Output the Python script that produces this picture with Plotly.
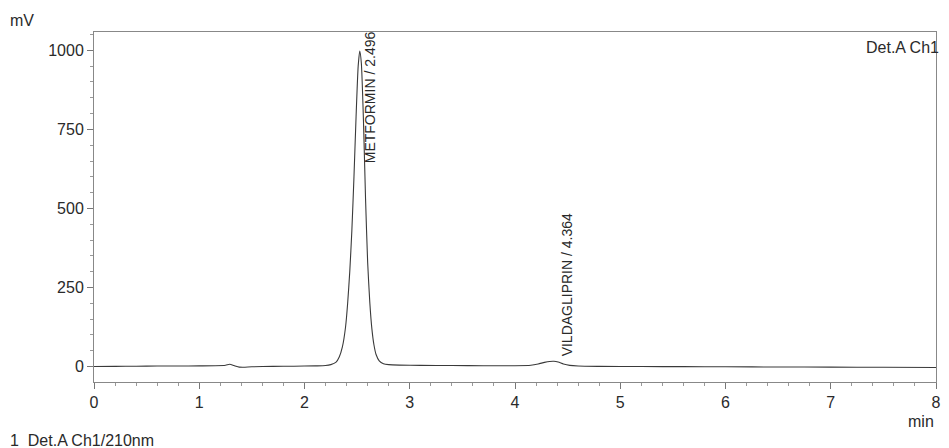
import plotly.graph_objects as go

# Chromatogram trace (time in min, signal in mV)
time_min = [0.00, 0.20, 0.40, 0.60, 0.80, 1.00, 1.15, 1.25, 1.29, 1.33, 1.38, 1.42, 1.50,
            1.70, 1.90, 2.10, 2.20, 2.25, 2.30, 2.33, 2.36, 2.39, 2.41, 2.43, 2.45, 2.47,
            2.49, 2.51, 2.525, 2.54, 2.56, 2.58, 2.60, 2.62, 2.64, 2.66, 2.68, 2.71, 2.75,
            2.80, 2.90, 3.10, 3.40, 3.70, 4.00, 4.15, 4.22, 4.28, 4.33, 4.37, 4.41, 4.46,
            4.52, 4.60, 4.80, 5.20, 5.60, 6.00, 6.50, 7.00, 7.50, 8.00]
signal_mv = [0.0, 0.5, 1.0, 1.5, 1.5, 2.0, 2.5, 4.0, 7.0, 3.0, -2.0, -2.5, -1.0,
             0.5, 1.0, 2.0, 3.0, 6.0, 14.0, 30.0, 62.0, 125.0, 200.0, 300.0, 430.0, 600.0,
             790.0, 950.0, 998.0, 960.0, 780.0, 530.0, 330.0, 205.0, 120.0, 68.0, 38.0, 18.0, 9.0,
             6.0, 4.5, 3.5, 3.0, 2.5, 2.5, 4.0, 8.0, 13.0, 16.0, 16.5, 14.0, 8.0,
             3.5, 1.5, 0.5, 0.0, -0.5, -1.0, -1.5, -2.0, -2.5, -3.0]

peak_names = ["METFORMIN / 2.496", "VILDAGLIPRIN / 4.364"]
peak_label_x = [2.63, 4.49]
peak_label_y = [636, 26]

x_ticks = [0, 1, 2, 3, 4, 5, 6, 7, 8]
y_ticks = [0, 250, 500, 750, 1000]

font_family = "Liberation Sans, Arial, sans-serif"
ink = "#2a2a2a"

fig = go.Figure()
fig.add_trace(go.Scatter(x=time_min, y=signal_mv, mode="lines",
                         line=dict(color="#3a3a3a", width=1.1, shape="spline", smoothing=0.6),
                         hoverinfo="skip", showlegend=False))

for name, px, py in zip(peak_names, peak_label_x, peak_label_y):
    fig.add_annotation(x=px, y=py, text=name, textangle=-90, showarrow=False,
                       xanchor="center", yanchor="bottom",
                       font=dict(family=font_family, size=14, color=ink))

fig.add_annotation(xref="paper", yref="paper", x=1.006, y=0.985, text="Det.A Ch1",
                   showarrow=False, xanchor="right", yanchor="top",
                   font=dict(family=font_family, size=16, color=ink))
fig.add_annotation(xref="paper", yref="paper", x=-0.102, y=1.034, text="mV",
                   showarrow=False, xanchor="left", yanchor="middle",
                   font=dict(family=font_family, size=16, color=ink))
fig.add_annotation(xref="paper", yref="paper", x=1.0, y=-0.114, text="min",
                   showarrow=False, xanchor="right", yanchor="middle",
                   font=dict(family=font_family, size=16, color=ink))
fig.add_annotation(xref="paper", yref="paper", x=-0.102, y=-0.166, text="1  Det.A Ch1/210nm",
                   showarrow=False, xanchor="left", yanchor="middle",
                   font=dict(family=font_family, size=16, color=ink))

fig.update_xaxes(range=[0, 8], tickvals=x_ticks, ticktext=[str(v) for v in x_ticks],
                 showgrid=False, zeroline=False, showline=True, linecolor="#888888",
                 linewidth=1, mirror=True, ticks="outside", ticklen=6, tickcolor="#777777",
                 minor=dict(dtick=0.2, ticks="outside", ticklen=3, tickcolor="#999999"),
                 tickfont=dict(family=font_family, size=16, color=ink))
fig.update_yaxes(range=[-49, 1058], tickvals=y_ticks, ticktext=[str(v) for v in y_ticks],
                 showgrid=False, zeroline=False, showline=True, linecolor="#888888",
                 linewidth=1, mirror=True, ticks="outside", ticklen=6, tickcolor="#777777",
                 minor=dict(dtick=50, ticks="outside", ticklen=3, tickcolor="#999999"),
                 tickfont=dict(family=font_family, size=16, color=ink))

fig.update_layout(width=949, height=448, margin=dict(l=94, r=8, t=32, b=66),
                  paper_bgcolor="white", plot_bgcolor="white")

fig.write_html("out.html")
